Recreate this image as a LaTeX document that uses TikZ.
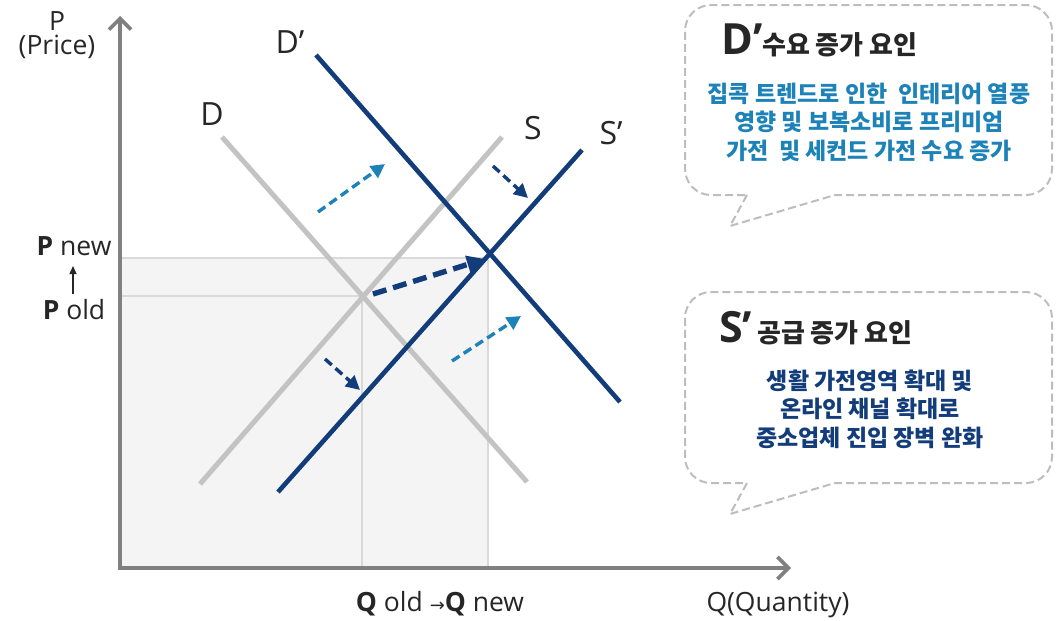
\documentclass[tikz,border=0pt]{standalone}
\usepackage{fontspec}
\setmainfont{Open Sans}
\newfontfamily\kr{Noto Sans CJK KR}
\newfontfamily\sym{DejaVu Sans}
\usetikzlibrary{arrows.meta}
\definecolor{navy}{HTML}{123C7A}
\definecolor{skyblue}{HTML}{1C82B8}
\definecolor{curvegray}{HTML}{C3C3C3}
\definecolor{axisgray}{HTML}{808080}
\definecolor{panel}{HTML}{F4F4F4}
\definecolor{gridgray}{HTML}{DADADA}
\definecolor{bubblegray}{HTML}{BDBDBD}
\definecolor{ink}{HTML}{262626}
\newcommand{\fsz}[2]{\fontsize{#1}{#2}\selectfont}

\begin{document}
\begin{tikzpicture}[x=1pt,y=-1pt,>=Latex,
  every node/.style={inner sep=0pt,text=ink},
  axis/.style={axisgray,line width=3.6pt,-{Straight Barb[length=11pt 0,width=22pt 0]}},
  oldcurve/.style={curvegray,line width=5pt},
  newcurve/.style={navy,line width=4.6pt},
  shiftarrow/.style={line width=3.4pt,dash pattern=on 9pt off 5pt,-{Triangle[length=14pt 0,width=14pt 0]}},
  bubble/.style={bubblegray,line width=2pt,dash pattern=on 8pt off 4pt},
  curvelabel/.style={font=\fsz{32}{34}},
  axislabel/.style={font=\fsz{26.5}{28}}]
\useasboundingbox (0,0) rectangle (1060,621);
% equilibrium points
\coordinate (O) at (120,568);
\coordinate (Eold) at (362,296);
\coordinate (Enew) at (488,258);
\fill[panel] (O) rectangle (Enew);
\draw[gridgray,line width=1.2pt] (O |- Enew) -- (Enew) -- (Enew |- O);
\draw[gridgray,line width=1.2pt] (O |- Eold) -- (Eold) -- (Eold |- O);
% axes
\coordinate (Ytop) at (120,16);
\coordinate (Xend) at (791,568);
\draw[axis] ([yshift=-1.8pt]O) -- (Ytop);
\draw[axis] ([xshift=-1.8pt]O) -- (Xend);
% curves
\coordinate (D1) at (222,137);  \coordinate (D2) at (527,482);
\coordinate (S1) at (200,484);  \coordinate (S2) at (502,137);
\coordinate (Dn1) at (316,55);  \coordinate (Dn2) at (620,402);
\coordinate (Sn1) at (278,492); \coordinate (Sn2) at (582,150);
\draw[oldcurve] (D1) -- (D2);
\draw[oldcurve] (S1) -- (S2);
\draw[newcurve] (Dn1) -- (Dn2);
\draw[newcurve] (Sn1) -- (Sn2);
\node[curvelabel] (dlab) at (212,114) {D};
\node[curvelabel] (dnlab) at (290,42) {D’};
\node[curvelabel] (slab) at (533,128) {S};
\node[curvelabel] (snlab) at (611,133) {S’};
% shift arrows
\coordinate (a1) at (318,212); \coordinate (b1) at (385,164);
\coordinate (a2) at (452,361); \coordinate (b2) at (521,316);
\coordinate (a3) at (493,166); \coordinate (b3) at (528,198);
\coordinate (a4) at (325,359); \coordinate (b4) at (360,390);
\draw[shiftarrow,skyblue] (a1) -- (b1);
\draw[shiftarrow,skyblue] (a2) -- (b2);
\draw[shiftarrow,navy] (a3) -- (b3);
\draw[shiftarrow,navy] (a4) -- (b4);
\draw[navy,line width=5.4pt,dash pattern=on 14pt off 7pt,-{Triangle[length=18pt 0,width=17pt 0]}] ([xshift=11pt,yshift=2pt]Eold) -- ([xshift=-3pt,yshift=-1pt]Enew);
% axis labels
\node[axislabel] (plab) at (57,21) {P};
\node[axislabel] (price) at (57,47) {(Price)};
\node[axislabel] (pnew) at (74,246) {\textbf{P} new};
\node[axislabel] (pold) at (74,310) {\textbf{P} old};
\coordinate (pup1) at (73,294); \coordinate (pup2) at (73,266);
\draw[ink,line width=1.3pt,-{Triangle[length=8pt 0,width=7pt 0]}] (pup1) -- (pup2);
\node[axislabel] (qlab) at (440,604) {\textbf{Q} old {\sym\fsz{18}{18}→}\textbf{Q} new};
\node[axislabel] (quant) at (778,605) {Q(Quantity)};
% demand bubble
\draw[bubble] (747,195) -- (730,226) -- (835,195) [rounded corners=26pt] -- (1052,195) -- (1052,5) -- (685,5) -- (685,195) -- (747,195);
\node[anchor=base west,font=\bfseries\fsz{43}{43}] (dhead) at (721,54) {D’};
\node[anchor=base west,font=\kr\bfseries\fsz{26}{26}] (dtitle) at (762,54) {수요 증가 요인};
\node[align=center,font=\kr\bfseries\fsz{23}{28.5},text=skyblue] (dbody) at (869,122) {집콕 트렌드로 인한\ \ 인테리어 열풍\\영향 및 보복소비로 프리미엄\\가전\ \ 및 세컨드 가전 수요 증가};
% supply bubble
\draw[bubble] (747,483) -- (730,514) -- (835,483) [rounded corners=26pt] -- (1052,483) -- (1052,292) -- (685,292) -- (685,483) -- (747,483);
\node[anchor=base west,font=\bfseries\fsz{43}{43}] (shead) at (719,342) {S’};
\node[anchor=base west,font=\kr\bfseries\fsz{26}{26}] (stitle) at (757,342) {공급 증가 요인};
\node[align=center,font=\kr\bfseries\fsz{23}{28.5},text=navy] (sbody) at (870,409) {생활 가전영역 확대 및\\온라인 채널 확대로\\중소업체 진입 장벽 완화};
\end{tikzpicture}
\end{document}
